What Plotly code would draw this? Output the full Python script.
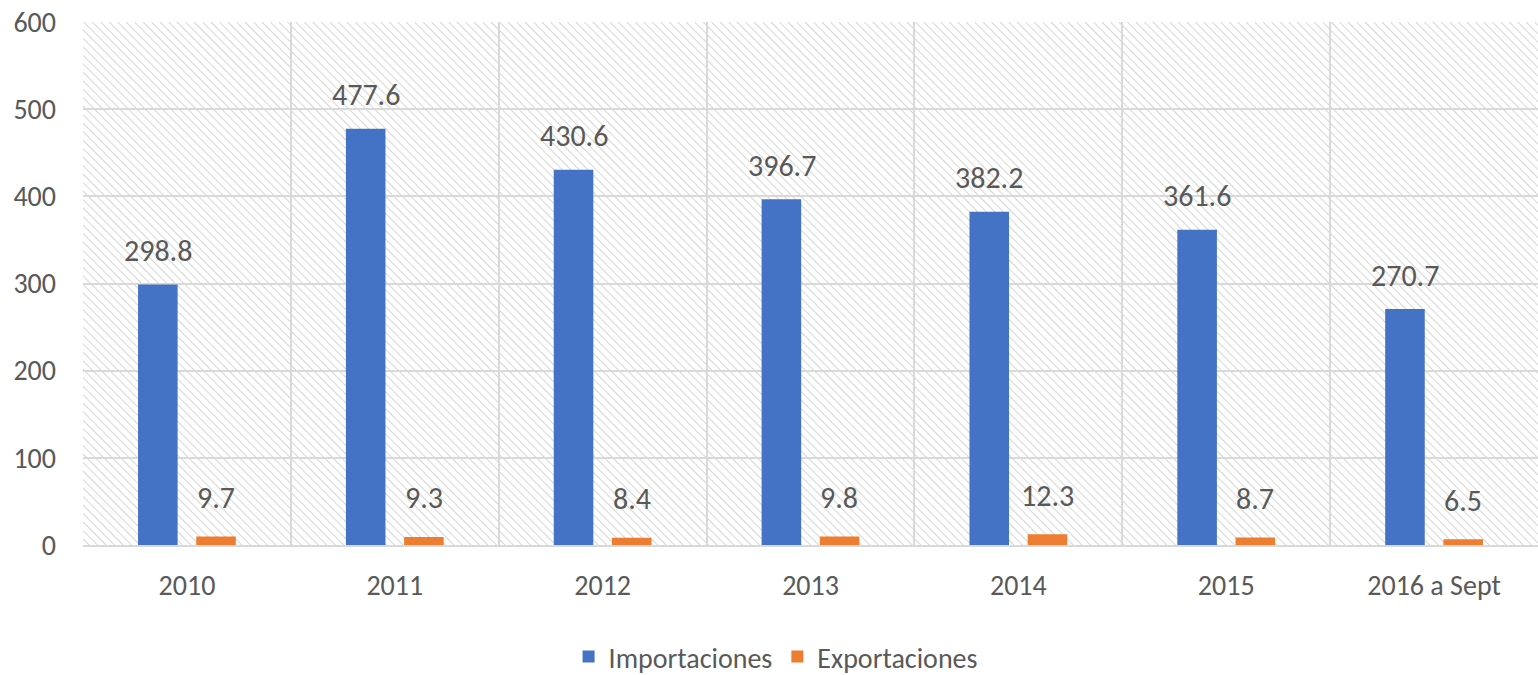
import plotly.graph_objects as go
import base64

categories = ["2010", "2011", "2012", "2013", "2014", "2015", "2016 a Sept"]
importaciones = [298.8, 477.6, 430.6, 396.7, 382.2, 361.6, 270.7]
exportaciones = [9.7, 9.3, 8.4, 9.8, 12.3, 8.7, 6.5]
y_ticks = [0, 100, 200, 300, 400, 500, 600]

FONT = "Calibri, Carlito, Lato, sans-serif"
GRAY = "#595959"
BLUE = "#4472C4"
ORANGE = "#ED7D31"

W, H = 1538, 675
ML, MR, MT, MB = 83, 0, 22, 130
PW, PH = W - ML - MR, H - MT - MB

# hatch background ("\" diagonal lines) as inline svg
svg = (
    f'<svg xmlns="http://www.w3.org/2000/svg" width="{PW}" height="{PH}">'
    '<defs><pattern id="h" width="6" height="6" patternUnits="userSpaceOnUse" '
    'patternTransform="rotate(-45)">'
    '<rect width="6" height="6" fill="white"/>'
    '<line x1="0" y1="0" x2="0" y2="6" stroke="#d6d6d6" stroke-width="2"/>'
    '</pattern></defs>'
    f'<rect width="{PW}" height="{PH}" fill="url(#h)"/></svg>'
)
src = "data:image/svg+xml;base64," + base64.b64encode(svg.encode()).decode()

fig = go.Figure()
fig.add_trace(go.Bar(name="Importaciones", x=categories, y=importaciones,
                     marker=dict(color=BLUE, line=dict(width=0))))
fig.add_trace(go.Bar(name="Exportaciones", x=categories, y=exportaciones,
                     marker=dict(color=ORANGE, line=dict(width=0))))

off = 0.139
for i, (a, b) in enumerate(zip(importaciones, exportaciones)):
    fig.add_annotation(x=i - off, y=a, text=f"{a:.1f}", showarrow=False,
                       yanchor="middle", yshift=34,
                       font=dict(family=FONT, size=30, color=GRAY))
    fig.add_annotation(x=i + off, y=b, text=f"{b:.1f}", showarrow=False,
                       yanchor="middle", yshift=39,
                       font=dict(family=FONT, size=30, color=GRAY))

fig.add_layout_image(dict(source=src, xref="paper", yref="paper", x=0, y=1,
                          sizex=1, sizey=1, xanchor="left", yanchor="top",
                          sizing="stretch", layer="below"))

fig.update_layout(
    width=W, height=H,
    margin=dict(l=ML, r=MR, t=MT, b=MB, autoexpand=False),
    paper_bgcolor="white",
    plot_bgcolor="rgba(0,0,0,0)",
    barmode="group", bargap=0.44, bargroupgap=0.32,
    font=dict(family=FONT, size=28, color=GRAY),
    showlegend=True,
    legend=dict(orientation="h", x=0.476, xanchor="center", y=-0.214, yanchor="middle",
                font=dict(family=FONT, size=28, color=GRAY), itemwidth=30,
                bgcolor="rgba(0,0,0,0)"),
    xaxis=dict(type="category", tickson="boundaries", showgrid=True,
               gridcolor="#d9d9d9", gridwidth=1.5, ticks="", showline=True,
               linecolor="#d9d9d9", linewidth=1.5, ticklabelstandoff=15,
               tickfont=dict(family=FONT, size=28, color=GRAY),
               range=[-0.5, 6.5], fixedrange=True),
    yaxis=dict(range=[0, 600], tickvals=y_ticks, showgrid=True,
               gridcolor="#d9d9d9", gridwidth=1.5, zeroline=False, ticks="",
               ticklabelstandoff=26, showline=False, ticklabeloverflow="allow",
               tickfont=dict(family=FONT, size=28, color=GRAY), fixedrange=True),
)

# remove the default page margin so the figure fills the window exactly
fig.write_html(
    "out.html",
    config={"displayModeBar": False},
    post_script="document.body.style.margin='0';document.body.style.overflow='hidden';",
)
